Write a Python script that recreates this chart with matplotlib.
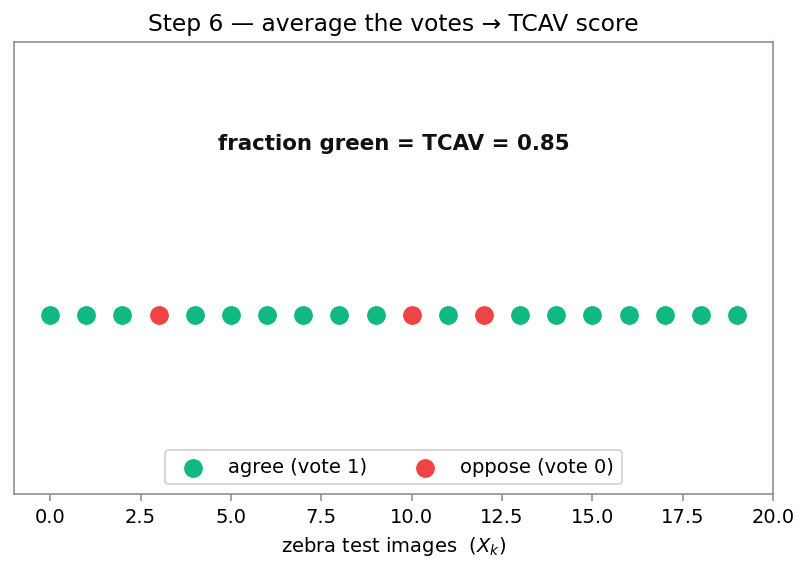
import matplotlib
matplotlib.use("Agg")
import matplotlib.pyplot as plt
import numpy as np

# ── Data ───────────────────────────────────────────────────────
image_idx = list(range(20))
votes = [1, 1, 1, 0, 1, 1, 1, 1, 1, 1, 0, 1, 0, 1, 1, 1, 1, 1, 1, 1]
tcav_score = 0.85

GREEN = "#10b981"
RED = "#ef4444"

# ── Plot ───────────────────────────────────────────────────────
fig, ax = plt.subplots(figsize=(5.78, 4.09), dpi=140)
fig.subplots_adjust(left=0.0173, right=0.9555, top=0.925, bottom=0.136)

idx = np.array(image_idx)
v = np.array(votes)
ax.scatter(idx[v == 1], np.zeros((v == 1).sum()), s=75, color=GREEN,
           label="agree (vote 1)", zorder=3)
ax.scatter(idx[v == 0], np.zeros((v == 0).sum()), s=75, color=RED,
           label="oppose (vote 0)", zorder=3)

ax.text(9.5, 0.9, f"fraction green = TCAV = {tcav_score:.2f}",
        ha="center", va="bottom", fontsize=11, fontweight="bold",
        color="#111111")

ax.set_xlim(-1, 20)
ax.set_ylim(-1, 1.52)
ax.set_yticks([])
ax.set_xlabel("zebra test images  ($X_k$)", fontsize=10)
ax.set_title("Step 6 — average the votes → TCAV score", fontsize=12)
ax.tick_params(axis="x", labelsize=10, color="#7f8c8d")
for sp in ax.spines.values():
    sp.set_color("#7f8c8d")

ax.legend(loc="lower center", ncol=2, fontsize=10)

fig.savefig("out.png", dpi=140)
